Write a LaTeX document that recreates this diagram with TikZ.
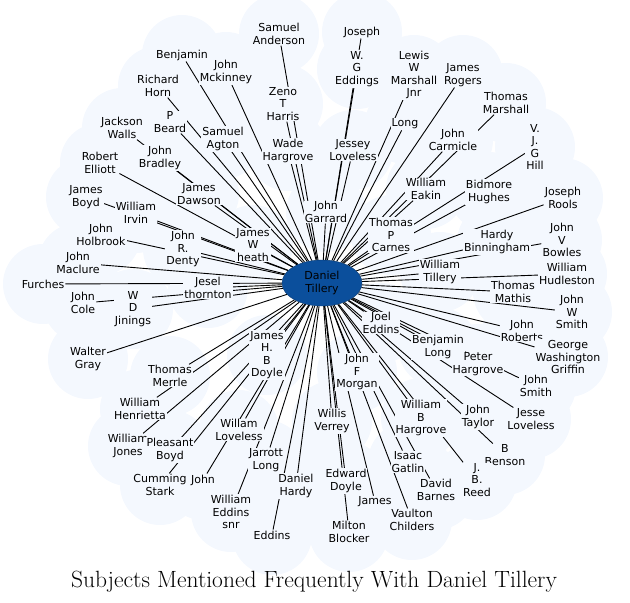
\documentclass[tikz,border=0pt]{standalone}
\usepackage{fontspec}
\newfontfamily\labelfont{DejaVu Sans}
\pgfdeclarelayer{background}
\pgfdeclarelayer{edges}
\pgfsetlayers{background,edges,main}
\definecolor{cloud}{HTML}{F4F8FE}
\definecolor{hub}{HTML}{0B4F9C}
\tikzset{
  person/.style={align=center,fill=cloud,inner sep=1pt,font=\labelfont\fontsize{11}{12.4}\selectfont},
  hubnode/.style={ellipse,draw=hub!70!black,fill=hub,minimum width=80pt,minimum height=46pt,inner sep=0pt,font=\labelfont\fontsize{11}{12.4}\selectfont,align=center},
  link/.style={black,line width=0.9pt}
}
\usetikzlibrary{shapes.geometric}
\begin{document}
\begin{tikzpicture}[x=1pt,y=-1pt]
  \useasboundingbox (0,0) rectangle (630,603);
  \node[hubnode] (dt) at (322,283) {Daniel\\Tillery};
  \foreach \n/\x/\y/\t in {
    sa/279/34/{Samuel\\Anderson}, jh/362/32/{Joseph}, bj/182/55/{Benjamin},
    jm/226/72/{John\\Mckinney}, rh/158/86/{Richard\\Horn}, zh/283/104/{Zeno\\T\\Harris},
    we/357/69/{W.\\G\\Eddings}, lm/414/75/{Lewis\\W\\Marshall\\Jnr}, jr/463/75/{James\\Rogers},
    tm/506/103/{Thomas\\Marshall}, pb/170/122/{P\\Beard}, jw/122/128/{Jackson\\Walls},
    ag/223/139/{Samuel\\Agton}, wh/288/151/{Wade\\Hargrove}, jl/353/150/{Jessey\\Loveless},
    lo/405/124/{Long}, jc/453/140/{John\\Carmicle}, vh/535/147/{V.\\J.\\G\\Hill},
    re/100/163/{Robert\\Elliott}, jb/160/158/{John\\Bradley}, jd/199/194/{James\\Dawson},
    ek/426/189/{William\\Eakin}, bh/489/192/{Bidmore\\Hughes}, jo/563/198/{Joseph\\Rools},
    by/86/197/{James\\Boyd}, wi/136/213/{William\\Irvin}, jg/326/212/{John\\Garrard},
    jk/101/235/{John\\Holbrook}, rd/183/249/{John\\R.\\Denty}, wt/253/245/{James\\W\\heath},
    tc/391/235/{Thomas\\P\\Carnes}, hb/497/242/{Hardy\\Binningham}, jv/562/240/{John\\V\\Bowles},
    ml/78/263/{John\\Maclure}, wy/440/272/{William\\Tillery}, hu/567/274/{William\\Hudleston},
    fu/43/284/{Furches}, th/208/288/{Jesel\\thornton}, ms/513/292/{Thomas\\Mathis},
    co/83/303/{John\\Cole}, di/133/309/{W\\D\\Jinings}, js/572/312/{John\\W\\Smith},
    ed/381/323/{Joel\\Eddins}, ro/522/331/{John\\Roberts}, bl/438/347/{Benjamin\\Long},
    wg/88/359/{Walter\\Gray}, me/170/376/{Thomas\\Merrle}, hd/267/355/{James\\H.\\B\\Doyle},
    ph/478/364/{Peter\\Hargrove}, gw/568/357/{George\\Washington\\Griffin}, fm/357/372/{John\\F\\Morgan},
    sm/536/386/{John\\Smith}, he/140/409/{William\\Henrietta}, ta/478/417/{John\\Taylor},
    le/531/419/{Jesse\\Loveless}, bg/421/418/{William\\B\\Hargrove}, vy/332/421/{Willis\\Verrey},
    wl/239/430/{Willam\\Loveless}, wj/128/446/{William\\Jones}, pl/170/450/{Pleasant\\Boyd},
    ga/408/462/{Isaac\\Gatlin}, be/505/455/{B\\Benson}, jt/266/460/{Jarrott\\Long},
    dy/346/481/{Edward\\Doyle}, cs/160/485/{Cumming\\Stark}, jn/203/480/{John},
    br/477/480/{J.\\B.\\Reed}, dh/296/486/{Daniel\\Hardy}, db/436/490/{David\\Barnes},
    ja/375/502/{James}, es/231/512/{William\\Eddins\\snr}, vc/412/520/{Vaulton\\Childers},
    mb/349/532/{Milton\\Blocker}, ei/272/535/{Eddins}}
  {
    \begin{pgfonlayer}{background}
      \fill[cloud] (\x,\y) circle (40);
    \end{pgfonlayer}
    \node[person] (\n) at (\x,\y) {\t};
    \begin{pgfonlayer}{edges}
      \draw[link] (dt) -- (\n);
    \end{pgfonlayer}
  }
  \node[font=\fontsize{23.5}{26}\selectfont] (title) at (314,582) {Subjects Mentioned Frequently With Daniel Tillery};
\end{tikzpicture}
\end{document}
